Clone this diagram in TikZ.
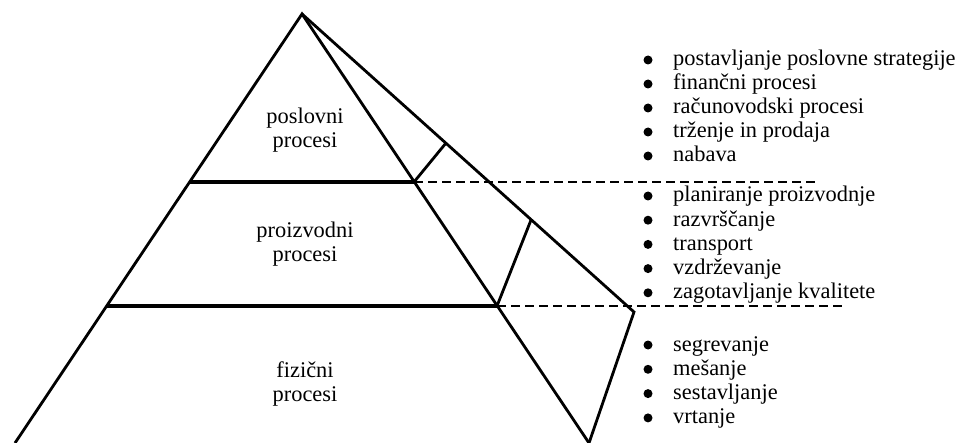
\documentclass[tikz,border=0pt]{standalone}
\usepackage{fontspec}
\setmainfont{Liberation Serif}
\begin{document}
\begin{tikzpicture}[x=1pt,y=-1pt,
    edge/.style={line width=2.8pt,line join=miter},
    level/.style={line width=3.2pt},
    guide/.style={line width=1.3pt,dash pattern=on 9pt off 5pt},
    label/.style={font=\fontsize{22.4}{24}\selectfont,align=center},
    item/.style={font=\fontsize{22.4}{24}\selectfont,anchor=base west,inner sep=0pt},
    dot/.style={circle,fill,inner sep=0pt,minimum size=9pt}]
  \useasboundingbox (0,0) rectangle (957,443);
  % pyramid corners
  \coordinate (top) at (302,14);
  \coordinate (bl) at (15,443);
  \coordinate (br) at (589,443);
  \coordinate (back) at (634,312);
  \coordinate (l1) at (190,182);
  \coordinate (r1) at (414,182);
  \coordinate (l2) at (106,306);
  \coordinate (r2) at (497,306);
  \coordinate (d1) at (446,143);
  \coordinate (d2) at (531,220);
  \coordinate (e1) at (815,182);
  \coordinate (e2) at (843,306);
  \draw[edge] (bl) -- (top) -- (br);
  \draw[edge] (top) -- (back) -- (br);
  \draw[level] (l1) -- (r1);
  \draw[level] (l2) -- (r2);
  \draw[edge] (r1) -- (d1);
  \draw[edge] (r2) -- (d2);
  \draw[guide] (r1) -- (e1);
  \draw[guide] (r2) -- (e2);
  % layers
  \node[label] (posl) at (305,130) {poslovni\\procesi};
  \node[label] (proi) at (305,244) {proizvodni\\procesi};
  \node[label] (fiz) at (305,384) {fizični\\procesi};
  % lists
  \foreach \txt [count=\i] in {postavljanje poslovne strategije,finančni procesi,računovodski procesi,trženje in prodaja,nabava} {
    \node[dot] (a\i) at (648,{60+24*(\i-1)}) {};
    \node[item] (ta\i) at (673,{66+24*(\i-1)}) {\txt};
  }
  \foreach \txt [count=\i] in {planiranje proizvodnje,razvrščanje,transport,vzdrževanje,zagotavljanje kvalitete} {
    \node[dot] (b\i) at (648,{196+24.2*(\i-1)}) {};
    \node[item] (tb\i) at (673,{202+24.2*(\i-1)}) {\txt};
  }
  \foreach \txt [count=\i] in {segrevanje,mešanje,sestavljanje,vrtanje} {
    \node[dot] (c\i) at (648,{345+24.3*(\i-1)}) {};
    \node[item] (tc\i) at (673,{351+24.3*(\i-1)}) {\txt};
  }
\end{tikzpicture}
\end{document}
